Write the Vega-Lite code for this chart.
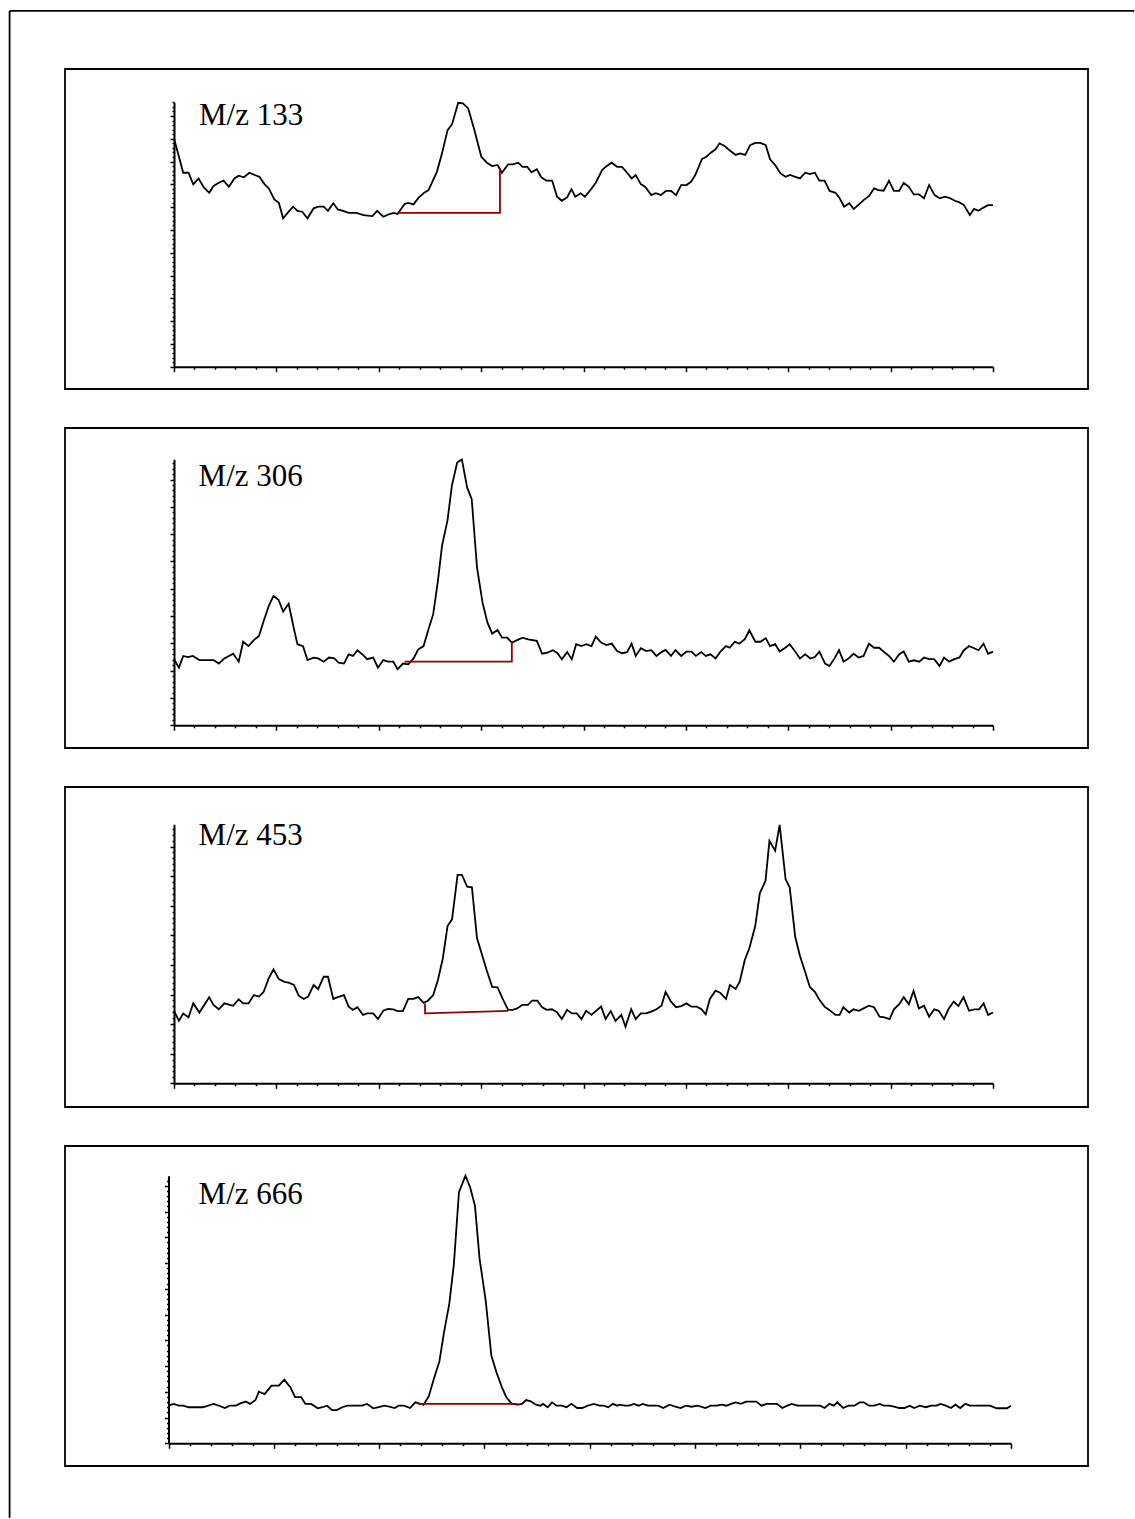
{
  "$schema": "https://vega.github.io/schema/vega-lite/v6.json",
  "background": "white",
  "padding": {"left": 7, "top": 9, "right": 0, "bottom": 0},
  "bounds": "flush",
  "spacing": 39,
  "config": {
    "view": {"stroke": "black", "strokeWidth": 1.8},
    "axis": {"labels": false, "grid": false, "domainColor": "black", "domainWidth": 2, "tickColor": "black", "tickWidth": 1.5}
  },
  "datasets": {
    "p1": [{"x":0,"y":100.2},{"x":4.5,"y":85.1},{"x":7.1,"y":85.1},{"x":9.4,"y":80.0},{"x":12.0,"y":82.6},{"x":14.5,"y":78.7},{"x":17.2,"y":76.3},{"x":19.3,"y":79.3},{"x":21.9,"y":80.7},{"x":24.2,"y":81.6},{"x":26.8,"y":78.9},{"x":29.5,"y":82.6},{"x":31.6,"y":83.8},{"x":34.1,"y":83.1},{"x":36.8,"y":85.1},{"x":39.4,"y":84.1},{"x":41.7,"y":83.3},{"x":44.2,"y":80.1},{"x":46.3,"y":78.2},{"x":49.0,"y":73.4},{"x":51.2,"y":71.9},{"x":53.3,"y":65.1},{"x":56.0,"y":68.0},{"x":58.2,"y":70.2},{"x":60.3,"y":68.4},{"x":62.6,"y":68.0},{"x":65.2,"y":65.1},{"x":68.2,"y":69.5},{"x":70.4,"y":70.2},{"x":73.1,"y":70.2},{"x":75.2,"y":68.4},{"x":77.8,"y":71.7},{"x":80.0,"y":69.0},{"x":82.6,"y":68.4},{"x":85.3,"y":67.5},{"x":89.1,"y":67.5},{"x":92.6,"y":66.5},{"x":96.9,"y":66.1},{"x":99.2,"y":68.4},{"x":102.2,"y":65.8},{"x":104.8,"y":66.8},{"x":107.4,"y":67.5},{"x":109.2,"y":67.0},{"x":112.6,"y":71.4},{"x":114.4,"y":71.9},{"x":117.0,"y":71.2},{"x":119.6,"y":74.3},{"x":122.2,"y":76.3},{"x":124.3,"y":77.5},{"x":128.4,"y":85.5},{"x":130.9,"y":93.6},{"x":133.6,"y":103.8},{"x":135.8,"y":106.4},{"x":138.8,"y":115.8},{"x":141.1,"y":115.5},{"x":143.7,"y":113.3},{"x":146.7,"y":103.8},{"x":150.1,"y":92.1},{"x":152.8,"y":89.5},{"x":155.4,"y":88.0},{"x":158.0,"y":88.5},{"x":160.1,"y":85.1},{"x":163.2,"y":88.8},{"x":165.5,"y":88.8},{"x":168.1,"y":89.5},{"x":170.2,"y":87.7},{"x":172.5,"y":87.7},{"x":174.6,"y":85.3},{"x":177.2,"y":86.6},{"x":179.4,"y":83.1},{"x":181.9,"y":81.6},{"x":184.7,"y":81.6},{"x":187.1,"y":74.6},{"x":189.4,"y":72.8},{"x":192.0,"y":74.3},{"x":194.1,"y":77.9},{"x":196.0,"y":74.6},{"x":198.6,"y":76.1},{"x":200.7,"y":74.6},{"x":203.4,"y":77.5},{"x":206.0,"y":80.7},{"x":209.1,"y":86.3},{"x":211.2,"y":88.0},{"x":213.8,"y":89.5},{"x":216.4,"y":87.7},{"x":218.8,"y":87.7},{"x":221.3,"y":85.1},{"x":223.5,"y":82.6},{"x":225.5,"y":84.1},{"x":228.0,"y":80.1},{"x":230.2,"y":78.9},{"x":233.1,"y":75.3},{"x":235.3,"y":76.1},{"x":237.8,"y":75.3},{"x":240.3,"y":77.1},{"x":242.8,"y":77.1},{"x":245.2,"y":75.3},{"x":247.7,"y":79.7},{"x":250.3,"y":79.7},{"x":252.5,"y":81.1},{"x":254.6,"y":84.1},{"x":257.8,"y":91.1},{"x":260.0,"y":92.1},{"x":262.2,"y":93.9},{"x":264.5,"y":95.4},{"x":266.4,"y":98.0},{"x":268.9,"y":96.8},{"x":271.8,"y":94.6},{"x":274.3,"y":92.9},{"x":276.5,"y":93.6},{"x":279.0,"y":92.9},{"x":281.4,"y":97.2},{"x":283.9,"y":98.2},{"x":286.4,"y":98.2},{"x":289.0,"y":97.2},{"x":291.1,"y":91.0},{"x":293.6,"y":88.5},{"x":296.2,"y":84.8},{"x":298.7,"y":83.3},{"x":300.9,"y":84.1},{"x":303.4,"y":83.3},{"x":305.7,"y":82.6},{"x":308.3,"y":85.1},{"x":310.5,"y":84.5},{"x":313.0,"y":85.1},{"x":315.2,"y":81.6},{"x":317.7,"y":81.6},{"x":320.2,"y":77.1},{"x":323.1,"y":76.3},{"x":325.1,"y":73.9},{"x":327.3,"y":70.2},{"x":329.8,"y":71.7},{"x":332.0,"y":69.2},{"x":334.5,"y":71.2},{"x":336.8,"y":73.1},{"x":339.5,"y":74.9},{"x":341.9,"y":78.2},{"x":344.1,"y":77.5},{"x":346.6,"y":77.2},{"x":349.2,"y":81.6},{"x":351.6,"y":77.1},{"x":354.2,"y":77.1},{"x":356.4,"y":80.7},{"x":358.9,"y":78.9},{"x":361.3,"y":75.6},{"x":363.8,"y":75.6},{"x":366.3,"y":73.9},{"x":368.8,"y":79.7},{"x":371.5,"y":75.3},{"x":374.0,"y":73.9},{"x":376.6,"y":74.6},{"x":379.1,"y":73.9},{"x":381.4,"y":72.8},{"x":383.6,"y":72.1},{"x":385.8,"y":70.9},{"x":388.7,"y":66.5},{"x":390.7,"y":69.2},{"x":392.9,"y":68.4},{"x":395.1,"y":69.7},{"x":397.6,"y":70.9},{"x":400,"y":70.9}],
    "p2": [{"x":0,"y":24.2},{"x":2.4,"y":21.1},{"x":4.5,"y":25.4},{"x":6.8,"y":25.0},{"x":9.2,"y":25.4},{"x":12.4,"y":23.9},{"x":19.3,"y":23.9},{"x":21.9,"y":22.6},{"x":24.6,"y":24.5},{"x":28.9,"y":26.2},{"x":31.6,"y":23.3},{"x":33.8,"y":30.6},{"x":36.4,"y":29.0},{"x":39.0,"y":31.2},{"x":41.5,"y":32.7},{"x":43.8,"y":38.2},{"x":46.3,"y":43.7},{"x":48.6,"y":47.4},{"x":51.1,"y":45.9},{"x":53.3,"y":41.6},{"x":56.0,"y":44.5},{"x":58.6,"y":35.2},{"x":60.3,"y":29.7},{"x":63.0,"y":29.0},{"x":65.2,"y":23.9},{"x":68.2,"y":24.8},{"x":70.4,"y":24.5},{"x":73.1,"y":23.3},{"x":75.7,"y":24.8},{"x":78.3,"y":24.5},{"x":80.4,"y":22.9},{"x":83.0,"y":22.6},{"x":85.3,"y":26.0},{"x":87.4,"y":25.4},{"x":89.6,"y":27.5},{"x":92.3,"y":25.8},{"x":94.3,"y":24.2},{"x":97.3,"y":24.8},{"x":99.6,"y":21.1},{"x":102.2,"y":23.9},{"x":104.5,"y":23.3},{"x":107.1,"y":23.3},{"x":109.2,"y":20.5},{"x":111.8,"y":22.6},{"x":114.4,"y":22.3},{"x":117.0,"y":24.5},{"x":119.3,"y":27.8},{"x":121.9,"y":29.0},{"x":124.3,"y":35.2},{"x":126.6,"y":40.7},{"x":128.9,"y":52.9},{"x":130.9,"y":65.7},{"x":133.6,"y":75.1},{"x":135.7,"y":87.7},{"x":138.3,"y":96.2},{"x":140.6,"y":97.3},{"x":143.2,"y":87.0},{"x":145.4,"y":82.8},{"x":148.0,"y":57.7},{"x":150.7,"y":44.9},{"x":153.1,"y":37.6},{"x":155.4,"y":33.6},{"x":158.0,"y":34.9},{"x":160.2,"y":32.1},{"x":162.7,"y":32.1},{"x":165.0,"y":30.3},{"x":167.6,"y":31.2},{"x":170.2,"y":32.1},{"x":172.9,"y":31.5},{"x":177.2,"y":30.9},{"x":179.8,"y":26.2},{"x":182.4,"y":26.6},{"x":185.1,"y":27.5},{"x":187.3,"y":26.4},{"x":189.4,"y":24.2},{"x":192.0,"y":26.8},{"x":194.3,"y":24.2},{"x":196.4,"y":29.7},{"x":199.0,"y":29.0},{"x":201.3,"y":29.7},{"x":203.9,"y":29.0},{"x":206.0,"y":32.5},{"x":208.6,"y":30.3},{"x":211.2,"y":29.4},{"x":213.8,"y":29.9},{"x":216.4,"y":27.2},{"x":218.8,"y":26.4},{"x":221.3,"y":26.8},{"x":223.5,"y":29.9},{"x":225.5,"y":25.4},{"x":228.0,"y":28.2},{"x":230.6,"y":27.2},{"x":233.1,"y":27.5},{"x":235.6,"y":25.4},{"x":238.1,"y":26.8},{"x":240.1,"y":27.6},{"x":242.7,"y":25.4},{"x":244.9,"y":27.5},{"x":247.7,"y":25.4},{"x":250.3,"y":27.0},{"x":252.7,"y":27.0},{"x":254.9,"y":25.4},{"x":257.5,"y":26.8},{"x":259.7,"y":25.4},{"x":262.0,"y":26.0},{"x":264.5,"y":24.5},{"x":267.1,"y":27.2},{"x":269.6,"y":29.0},{"x":271.4,"y":28.4},{"x":273.9,"y":30.6},{"x":276.0,"y":29.9},{"x":278.8,"y":31.5},{"x":281.0,"y":34.8},{"x":283.9,"y":30.6},{"x":286.4,"y":30.6},{"x":289.0,"y":31.9},{"x":291.1,"y":29.0},{"x":293.6,"y":29.7},{"x":295.8,"y":27.0},{"x":298.2,"y":28.2},{"x":300.7,"y":29.7},{"x":303.2,"y":27.2},{"x":305.7,"y":24.5},{"x":308.3,"y":26.0},{"x":310.8,"y":24.5},{"x":313.0,"y":25.0},{"x":315.2,"y":27.0},{"x":318.0,"y":22.6},{"x":320.1,"y":21.7},{"x":322.6,"y":24.5},{"x":324.8,"y":27.5},{"x":327.0,"y":23.3},{"x":329.5,"y":24.5},{"x":331.9,"y":26.2},{"x":334.4,"y":24.8},{"x":336.8,"y":25.4},{"x":339.4,"y":29.9},{"x":341.9,"y":28.4},{"x":344.4,"y":28.4},{"x":346.6,"y":27.0},{"x":349.2,"y":25.4},{"x":351.6,"y":23.3},{"x":354.2,"y":26.0},{"x":356.4,"y":27.0},{"x":358.9,"y":23.3},{"x":361.4,"y":23.8},{"x":364.0,"y":23.3},{"x":366.3,"y":24.8},{"x":368.8,"y":24.2},{"x":371.3,"y":24.2},{"x":373.9,"y":21.7},{"x":376.1,"y":24.8},{"x":378.6,"y":23.3},{"x":381.1,"y":24.2},{"x":383.6,"y":24.8},{"x":385.8,"y":27.5},{"x":388.3,"y":29.0},{"x":390.3,"y":28.4},{"x":392.9,"y":27.5},{"x":395.4,"y":29.9},{"x":397.6,"y":26.2},{"x":400,"y":27.0}],
    "p3": [{"x":0,"y":24.5},{"x":2.4,"y":21.1},{"x":4.5,"y":23.6},{"x":7.1,"y":22.3},{"x":9.4,"y":27.0},{"x":12.4,"y":23.9},{"x":17.2,"y":29.1},{"x":19.3,"y":26.5},{"x":21.9,"y":25.0},{"x":24.6,"y":27.0},{"x":28.9,"y":26.2},{"x":31.6,"y":28.4},{"x":33.8,"y":27.0},{"x":36.4,"y":27.0},{"x":39.0,"y":29.8},{"x":41.5,"y":29.3},{"x":43.8,"y":30.9},{"x":46.3,"y":35.5},{"x":48.6,"y":38.5},{"x":51.2,"y":35.2},{"x":53.9,"y":34.3},{"x":56.0,"y":34.0},{"x":58.6,"y":33.2},{"x":60.9,"y":29.6},{"x":63.4,"y":28.5},{"x":65.5,"y":29.3},{"x":68.2,"y":33.2},{"x":70.4,"y":31.8},{"x":73.1,"y":36.0},{"x":75.2,"y":36.0},{"x":77.8,"y":28.5},{"x":80.0,"y":29.1},{"x":83.0,"y":29.8},{"x":85.3,"y":25.9},{"x":87.4,"y":24.8},{"x":89.6,"y":25.7},{"x":92.3,"y":23.1},{"x":94.3,"y":23.6},{"x":97.3,"y":23.6},{"x":99.6,"y":21.7},{"x":102.2,"y":24.5},{"x":104.5,"y":25.1},{"x":107.1,"y":25.0},{"x":109.2,"y":24.4},{"x":111.8,"y":24.4},{"x":114.4,"y":28.5},{"x":117.0,"y":28.5},{"x":119.3,"y":29.1},{"x":121.9,"y":27.2},{"x":124.0,"y":27.9},{"x":126.6,"y":29.8},{"x":128.9,"y":34.9},{"x":131.3,"y":42.2},{"x":133.6,"y":53.1},{"x":135.8,"y":55.4},{"x":138.5,"y":70.4},{"x":140.6,"y":70.4},{"x":143.2,"y":66.4},{"x":145.5,"y":66.2},{"x":148.0,"y":49.0},{"x":150.7,"y":42.8},{"x":152.8,"y":38.0},{"x":155.4,"y":32.6},{"x":158.0,"y":32.4},{"x":160.6,"y":28.4},{"x":163.2,"y":24.8},{"x":165.5,"y":24.8},{"x":167.6,"y":25.3},{"x":170.2,"y":26.5},{"x":172.9,"y":26.5},{"x":174.9,"y":27.9},{"x":177.5,"y":27.9},{"x":179.8,"y":25.7},{"x":182.1,"y":24.8},{"x":184.5,"y":25.0},{"x":187.1,"y":24.0},{"x":189.4,"y":21.7},{"x":192.0,"y":24.8},{"x":194.3,"y":23.6},{"x":196.7,"y":23.6},{"x":199.0,"y":21.7},{"x":201.3,"y":24.5},{"x":203.9,"y":23.1},{"x":206.0,"y":24.4},{"x":208.6,"y":25.9},{"x":210.8,"y":21.7},{"x":213.3,"y":24.4},{"x":215.6,"y":21.1},{"x":218.5,"y":23.1},{"x":220.5,"y":19.1},{"x":223.3,"y":25.0},{"x":225.5,"y":21.7},{"x":228.0,"y":23.6},{"x":230.6,"y":23.6},{"x":233.1,"y":24.2},{"x":235.6,"y":25.0},{"x":238.1,"y":26.2},{"x":240.1,"y":30.9},{"x":242.7,"y":27.6},{"x":245.2,"y":25.7},{"x":247.7,"y":26.1},{"x":250.3,"y":27.0},{"x":252.7,"y":25.9},{"x":255.3,"y":25.9},{"x":257.5,"y":25.1},{"x":259.7,"y":23.3},{"x":261.7,"y":28.5},{"x":264.5,"y":31.3},{"x":266.7,"y":30.6},{"x":269.6,"y":28.5},{"x":271.5,"y":33.2},{"x":274.3,"y":31.9},{"x":276.3,"y":34.3},{"x":278.8,"y":41.7},{"x":281.0,"y":45.6},{"x":283.9,"y":53.2},{"x":286.1,"y":64.2},{"x":288.9,"y":68.4},{"x":290.8,"y":81.9},{"x":293.6,"y":78.6},{"x":295.8,"y":87.3},{"x":298.7,"y":68.9},{"x":300.7,"y":66.2},{"x":303.4,"y":49.5},{"x":305.7,"y":43.1},{"x":308.3,"y":37.5},{"x":310.5,"y":32.6},{"x":313.0,"y":30.9},{"x":315.0,"y":28.5},{"x":317.7,"y":25.9},{"x":320.0,"y":24.8},{"x":323.1,"y":23.1},{"x":325.1,"y":23.1},{"x":326.9,"y":25.7},{"x":329.8,"y":23.9},{"x":331.8,"y":25.0},{"x":334.5,"y":24.5},{"x":336.8,"y":25.3},{"x":339.4,"y":26.2},{"x":341.9,"y":25.7},{"x":344.6,"y":22.5},{"x":347.0,"y":22.3},{"x":349.5,"y":21.7},{"x":351.6,"y":25.0},{"x":354.2,"y":26.7},{"x":356.4,"y":29.1},{"x":358.9,"y":26.7},{"x":361.2,"y":31.2},{"x":363.8,"y":25.3},{"x":366.3,"y":26.2},{"x":368.8,"y":22.5},{"x":371.3,"y":25.0},{"x":373.5,"y":24.5},{"x":376.1,"y":21.7},{"x":378.2,"y":25.0},{"x":380.8,"y":27.6},{"x":383.1,"y":26.1},{"x":385.6,"y":29.1},{"x":388.3,"y":24.5},{"x":390.9,"y":25.0},{"x":393.2,"y":25.0},{"x":395.4,"y":27.0},{"x":397.6,"y":23.1},{"x":400,"y":23.9}],
    "p4": [{"x":0,"y":14.6},{"x":2.4,"y":15.3},{"x":4.9,"y":14.6},{"x":7.0,"y":14.6},{"x":9.5,"y":14.0},{"x":16.3,"y":14.0},{"x":21.4,"y":15.3},{"x":23.9,"y":14.6},{"x":26.8,"y":13.7},{"x":29.0,"y":14.6},{"x":31.9,"y":14.6},{"x":34.1,"y":15.5},{"x":36.7,"y":16.2},{"x":38.7,"y":15.3},{"x":41.3,"y":16.8},{"x":42.9,"y":20.0},{"x":45.6,"y":19.1},{"x":48.9,"y":22.4},{"x":52.4,"y":22.4},{"x":55.0,"y":24.7},{"x":57.9,"y":21.7},{"x":60.1,"y":17.9},{"x":63.0,"y":17.9},{"x":65.0,"y":15.3},{"x":67.7,"y":15.3},{"x":70.9,"y":13.6},{"x":73.1,"y":14.0},{"x":75.3,"y":14.6},{"x":77.7,"y":12.9},{"x":79.9,"y":12.9},{"x":82.4,"y":14.0},{"x":85.0,"y":14.6},{"x":87.9,"y":14.6},{"x":91.8,"y":14.6},{"x":94.3,"y":15.3},{"x":97.2,"y":13.6},{"x":99.8,"y":14.0},{"x":102.5,"y":14.6},{"x":104.8,"y":14.2},{"x":107.4,"y":13.7},{"x":109.3,"y":14.6},{"x":111.8,"y":14.6},{"x":114.7,"y":13.7},{"x":117.2,"y":15.9},{"x":118.9,"y":15.5},{"x":121.1,"y":15.0},{"x":123.6,"y":18.3},{"x":126.2,"y":25.6},{"x":128.6,"y":31.7},{"x":130.8,"y":43.1},{"x":133.3,"y":54.1},{"x":135.5,"y":69.6},{"x":137.9,"y":97.5},{"x":141.0,"y":103.9},{"x":143.2,"y":99.4},{"x":145.5,"y":92.3},{"x":147.7,"y":71.6},{"x":150.6,"y":55.4},{"x":153.3,"y":34.0},{"x":155.7,"y":27.6},{"x":158.3,"y":21.7},{"x":160.4,"y":17.9},{"x":163.0,"y":15.3},{"x":165.9,"y":15.0},{"x":167.8,"y":15.3},{"x":169.8,"y":16.8},{"x":172.0,"y":16.3},{"x":174.4,"y":15.0},{"x":176.6,"y":14.6},{"x":177.8,"y":15.3},{"x":180.0,"y":14.0},{"x":182.1,"y":15.9},{"x":184.2,"y":14.6},{"x":186.8,"y":14.6},{"x":188.9,"y":14.0},{"x":191.3,"y":15.3},{"x":194.0,"y":13.7},{"x":196.4,"y":13.7},{"x":199.1,"y":14.6},{"x":202.0,"y":15.3},{"x":204.6,"y":14.6},{"x":206.6,"y":14.6},{"x":208.8,"y":14.0},{"x":211.0,"y":15.3},{"x":213.0,"y":14.6},{"x":214.0,"y":15.0},{"x":216.6,"y":14.6},{"x":218.6,"y":14.6},{"x":221.0,"y":15.3},{"x":223.2,"y":14.6},{"x":225.1,"y":15.3},{"x":227.6,"y":14.6},{"x":232.5,"y":14.6},{"x":234.9,"y":13.7},{"x":237.9,"y":15.0},{"x":240.7,"y":14.2},{"x":243.1,"y":13.7},{"x":245.6,"y":14.6},{"x":248.3,"y":14.2},{"x":251.3,"y":14.6},{"x":254.9,"y":13.7},{"x":257.4,"y":14.6},{"x":260.3,"y":14.6},{"x":262.7,"y":15.0},{"x":264.9,"y":14.6},{"x":267.1,"y":15.3},{"x":269.3,"y":15.9},{"x":271.7,"y":15.3},{"x":274.2,"y":16.2},{"x":279.1,"y":16.2},{"x":281.5,"y":14.6},{"x":284.0,"y":15.3},{"x":288.9,"y":15.3},{"x":291.4,"y":13.7},{"x":293.8,"y":14.6},{"x":295.8,"y":15.3},{"x":298.7,"y":14.6},{"x":309.4,"y":14.6},{"x":311.5,"y":13.7},{"x":313.8,"y":15.3},{"x":315.9,"y":14.6},{"x":317.5,"y":15.9},{"x":320.3,"y":13.7},{"x":322.9,"y":14.6},{"x":325.7,"y":14.6},{"x":328.2,"y":15.9},{"x":330.1,"y":15.9},{"x":332.6,"y":14.6},{"x":335.0,"y":14.6},{"x":337.7,"y":15.3},{"x":339.6,"y":14.6},{"x":342.1,"y":14.6},{"x":344.5,"y":14.2},{"x":347.0,"y":13.7},{"x":349.4,"y":13.7},{"x":351.9,"y":14.6},{"x":354.0,"y":13.7},{"x":356.7,"y":14.6},{"x":359.5,"y":14.0},{"x":362.2,"y":14.6},{"x":364.6,"y":14.6},{"x":366.6,"y":15.3},{"x":369.0,"y":14.6},{"x":371.5,"y":13.7},{"x":373.6,"y":15.0},{"x":375.9,"y":13.7},{"x":378.3,"y":15.3},{"x":380.5,"y":14.6},{"x":382.9,"y":14.6},{"x":387.0,"y":14.6},{"x":390.0,"y":14.6},{"x":393.2,"y":13.6},{"x":398.1,"y":13.6},{"x":400,"y":14.6}],
    "r1": [{"x":109.2,"y":67.5,"i":0},{"x":159.2,"y":67.5,"i":1},{"x":159.2,"y":87.0,"i":2}],
    "r2": [{"x":112.6,"y":23.3,"i":0},{"x":165.0,"y":23.3,"i":1},{"x":165.0,"y":30.5,"i":2}],
    "r3": [{"x":122.6,"y":27.0,"i":0},{"x":122.6,"y":23.6,"i":1},{"x":163.2,"y":24.5,"i":2}],
    "r4": [{"x":118.5,"y":15.3,"i":0},{"x":165.5,"y":15.3,"i":1}],
    "l1": [{"x":12.2,"y":106,"t":"M/z 133"}],
    "l2": [{"x":12.0,"y":87.7,"t":"M/z 306"}],
    "l3": [{"x":12.0,"y":80.5,"t":"M/z 453"}],
    "l4": [{"x":14.3,"y":92.9,"t":"M/z 666"}],
    "frame": [{"x":-80.3,"y":156.1,"x2":-80.3,"y2":-505.0},{"x":-80.3,"y":156.1,"x2":469.0,"y2":156.1}]
  },
  "vconcat": [
    {
      "width": 1023, "height": 320,
      "resolve": {"axis": {"x": "independent", "y": "independent"}},
      "layer": [
        {"data": {"name": "frame"}, "mark": {"type": "rule", "color": "black", "strokeWidth": 1.8},
         "encoding": {
           "x": {"field": "x", "type": "quantitative", "scale": {"domain": [0, 400], "range": [109, 928], "nice": false, "zero": false}, "axis": null},
           "y": {"field": "y", "type": "quantitative", "scale": {"domain": [0, 116], "range": [297.7, 33.3], "nice": false, "zero": false}, "axis": null},
           "x2": {"field": "x2"}, "y2": {"field": "y2"}}},
        {"data": {"name": "p1"}, "mark": {"type": "line", "color": "black", "strokeWidth": 1.8},
         "encoding": {
           "x": {"field": "x", "type": "quantitative", "title": null, "scale": {"domain": [0, 400], "range": [109, 928], "nice": false, "zero": false},
                 "axis": {"orient": "bottom", "offset": -22.3, "values": [0,10,20,30,40,50,60,70,80,90,100,110,120,130,140,150,160,170,180,190,200,210,220,230,240,250,260,270,280,290,300,310,320,330,340,350,360,370,380,390,400], "tickSize": {"condition": {"test": "datum.value % 50 === 0", "value": 5}, "value": 2.5}}},
           "y": {"field": "y", "type": "quantitative", "title": null, "scale": {"domain": [0, 116], "range": [297.7, 33.3], "nice": false, "zero": false},
                 "axis": {"orient": "left", "offset": -109, "values": [0,2,4,6,8,10,12,14,16,18,20,22,24,26,28,30,32,34,36,38,40,42,44,46,48,50,52,54,56,58,60,62,64,66,68,70,72,74,76,78,80,82,84,86,88,90,92,94,96,98,100,102,104,106,108,110,112,114,116], "tickSize": {"condition": {"test": "datum.value % 10 === 0", "value": 4}, "value": 2}}}}},
        {"data": {"name": "r1"}, "mark": {"type": "line", "color": "#900000", "strokeWidth": 1.8},
         "encoding": {
           "x": {"field": "x", "type": "quantitative", "scale": {"domain": [0, 400], "range": [109, 928], "nice": false, "zero": false}, "axis": null},
           "y": {"field": "y", "type": "quantitative", "scale": {"domain": [0, 116], "range": [297.7, 33.3], "nice": false, "zero": false}, "axis": null},
           "order": {"field": "i", "type": "quantitative"}}},
        {"data": {"name": "l1"}, "mark": {"type": "text", "font": "Liberation Serif", "fontSize": 31, "align": "left", "baseline": "alphabetic", "color": "black"},
         "encoding": {
           "x": {"field": "x", "type": "quantitative", "scale": {"domain": [0, 400], "range": [109, 928], "nice": false, "zero": false}, "axis": null},
           "y": {"field": "y", "type": "quantitative", "scale": {"domain": [0, 116], "range": [297.7, 33.3], "nice": false, "zero": false}, "axis": null},
           "text": {"field": "t"}}}
      ]
    },
    {
      "width": 1023, "height": 320,
      "resolve": {"axis": {"x": "independent", "y": "independent"}},
      "layer": [
        {"data": {"name": "p2"}, "mark": {"type": "line", "color": "black", "strokeWidth": 1.8},
         "encoding": {
           "x": {"field": "x", "type": "quantitative", "title": null, "scale": {"domain": [0, 400], "range": [109, 928], "nice": false, "zero": false},
                 "axis": {"orient": "bottom", "offset": -22.7, "values": [0,10,20,30,40,50,60,70,80,90,100,110,120,130,140,150,160,170,180,190,200,210,220,230,240,250,260,270,280,290,300,310,320,330,340,350,360,370,380,390,400], "tickSize": {"condition": {"test": "datum.value % 50 === 0", "value": 5}, "value": 2.5}}},
           "y": {"field": "y", "type": "quantitative", "title": null, "scale": {"domain": [0, 97.4], "range": [297.3, 31.3], "nice": false, "zero": false},
                 "axis": {"orient": "left", "offset": -109, "values": [0,2,4,6,8,10,12,14,16,18,20,22,24,26,28,30,32,34,36,38,40,42,44,46,48,50,52,54,56,58,60,62,64,66,68,70,72,74,76,78,80,82,84,86,88,90,92,94,96], "tickSize": {"condition": {"test": "datum.value % 10 === 0", "value": 4}, "value": 2}}}}},
        {"data": {"name": "r2"}, "mark": {"type": "line", "color": "#900000", "strokeWidth": 1.8},
         "encoding": {
           "x": {"field": "x", "type": "quantitative", "scale": {"domain": [0, 400], "range": [109, 928], "nice": false, "zero": false}, "axis": null},
           "y": {"field": "y", "type": "quantitative", "scale": {"domain": [0, 97.4], "range": [297.3, 31.3], "nice": false, "zero": false}, "axis": null},
           "order": {"field": "i", "type": "quantitative"}}},
        {"data": {"name": "l2"}, "mark": {"type": "text", "font": "Liberation Serif", "fontSize": 31, "align": "left", "baseline": "alphabetic", "color": "black"},
         "encoding": {
           "x": {"field": "x", "type": "quantitative", "scale": {"domain": [0, 400], "range": [109, 928], "nice": false, "zero": false}, "axis": null},
           "y": {"field": "y", "type": "quantitative", "scale": {"domain": [0, 97.4], "range": [297.3, 31.3], "nice": false, "zero": false}, "axis": null},
           "text": {"field": "t"}}}
      ]
    },
    {
      "width": 1023, "height": 320,
      "resolve": {"axis": {"x": "independent", "y": "independent"}},
      "layer": [
        {"data": {"name": "p3"}, "mark": {"type": "line", "color": "black", "strokeWidth": 1.8},
         "encoding": {
           "x": {"field": "x", "type": "quantitative", "title": null, "scale": {"domain": [0, 400], "range": [109, 928], "nice": false, "zero": false},
                 "axis": {"orient": "bottom", "offset": -23.7, "values": [0,10,20,30,40,50,60,70,80,90,100,110,120,130,140,150,160,170,180,190,200,210,220,230,240,250,260,270,280,290,300,310,320,330,340,350,360,370,380,390,400], "tickSize": {"condition": {"test": "datum.value % 50 === 0", "value": 5}, "value": 2.5}}},
           "y": {"field": "y", "type": "quantitative", "title": null, "scale": {"domain": [0, 87.5], "range": [296.3, 37.3], "nice": false, "zero": false},
                 "axis": {"orient": "left", "offset": -109, "values": [0,2,4,6,8,10,12,14,16,18,20,22,24,26,28,30,32,34,36,38,40,42,44,46,48,50,52,54,56,58,60,62,64,66,68,70,72,74,76,78,80,82,84,86], "tickSize": {"condition": {"test": "datum.value % 10 === 0", "value": 4}, "value": 2}}}}},
        {"data": {"name": "r3"}, "mark": {"type": "line", "color": "#900000", "strokeWidth": 1.8},
         "encoding": {
           "x": {"field": "x", "type": "quantitative", "scale": {"domain": [0, 400], "range": [109, 928], "nice": false, "zero": false}, "axis": null},
           "y": {"field": "y", "type": "quantitative", "scale": {"domain": [0, 87.5], "range": [296.3, 37.3], "nice": false, "zero": false}, "axis": null},
           "order": {"field": "i", "type": "quantitative"}}},
        {"data": {"name": "l3"}, "mark": {"type": "text", "font": "Liberation Serif", "fontSize": 31, "align": "left", "baseline": "alphabetic", "color": "black"},
         "encoding": {
           "x": {"field": "x", "type": "quantitative", "scale": {"domain": [0, 400], "range": [109, 928], "nice": false, "zero": false}, "axis": null},
           "y": {"field": "y", "type": "quantitative", "scale": {"domain": [0, 87.5], "range": [296.3, 37.3], "nice": false, "zero": false}, "axis": null},
           "text": {"field": "t"}}}
      ]
    },
    {
      "width": 1023, "height": 320,
      "resolve": {"axis": {"x": "independent", "y": "independent"}},
      "layer": [
        {"data": {"name": "p4"}, "mark": {"type": "line", "color": "black", "strokeWidth": 1.8},
         "encoding": {
           "x": {"field": "x", "type": "quantitative", "title": null, "scale": {"domain": [0, 400], "range": [103.5, 946], "nice": false, "zero": false},
                 "axis": {"orient": "bottom", "offset": -22.7, "values": [0,10,20,30,40,50,60,70,80,90,100,110,120,130,140,150,160,170,180,190,200,210,220,230,240,250,260,270,280,290,300,310,320,330,340,350,360,370,380,390,400], "tickSize": {"condition": {"test": "datum.value % 50 === 0", "value": 5}, "value": 2.5}}},
           "y": {"field": "y", "type": "quantitative", "title": null, "scale": {"domain": [0, 103.9], "range": [297.3, 29.7], "nice": false, "zero": false},
                 "axis": {"orient": "left", "offset": -103.5, "values": [0,2,4,6,8,10,12,14,16,18,20,22,24,26,28,30,32,34,36,38,40,42,44,46,48,50,52,54,56,58,60,62,64,66,68,70,72,74,76,78,80,82,84,86,88,90,92,94,96,98,100,102], "tickSize": {"condition": {"test": "datum.value % 10 === 0", "value": 4}, "value": 2}}}}},
        {"data": {"name": "r4"}, "mark": {"type": "line", "color": "#900000", "strokeWidth": 1.8},
         "encoding": {
           "x": {"field": "x", "type": "quantitative", "scale": {"domain": [0, 400], "range": [103.5, 946], "nice": false, "zero": false}, "axis": null},
           "y": {"field": "y", "type": "quantitative", "scale": {"domain": [0, 103.9], "range": [297.3, 29.7], "nice": false, "zero": false}, "axis": null},
           "order": {"field": "i", "type": "quantitative"}}},
        {"data": {"name": "l4"}, "mark": {"type": "text", "font": "Liberation Serif", "fontSize": 31, "align": "left", "baseline": "alphabetic", "color": "black"},
         "encoding": {
           "x": {"field": "x", "type": "quantitative", "scale": {"domain": [0, 400], "range": [103.5, 946], "nice": false, "zero": false}, "axis": null},
           "y": {"field": "y", "type": "quantitative", "scale": {"domain": [0, 103.9], "range": [297.3, 29.7], "nice": false, "zero": false}, "axis": null},
           "text": {"field": "t"}}}
      ]
    }
  ]
}
